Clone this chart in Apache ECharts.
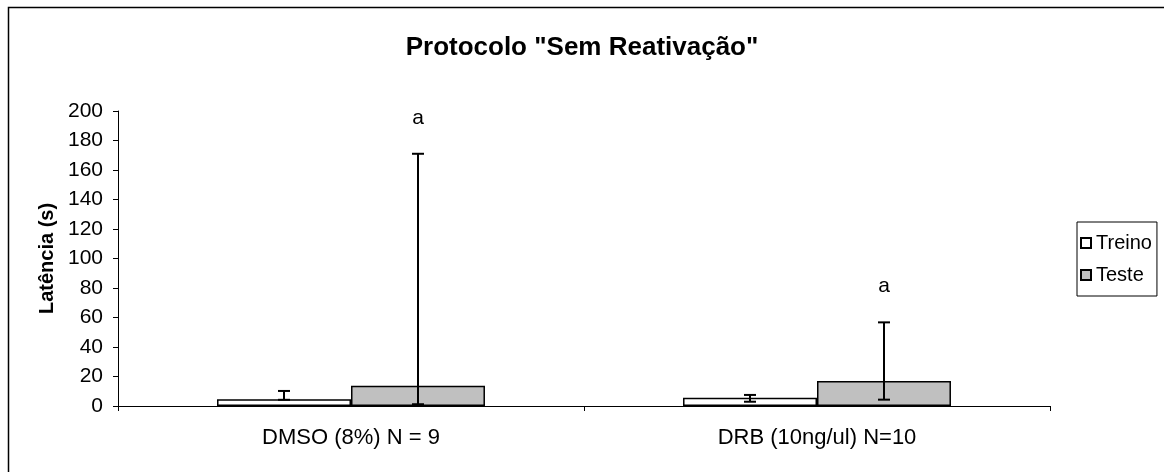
<!DOCTYPE html>
<html><head><meta charset="utf-8">
<script src="https://cdn.jsdelivr.net/npm/echarts@6/dist/echarts.min.js"></script>
<style>html,body{margin:0;padding:0;background:#fff}#c{width:1164px;height:472px}</style>
</head><body><div id="c"></div>
<script>
const categories = ['DMSO (8%) N = 9', 'DRB (10ng/ul) N=10'];
const seriesNames = ['Treino', 'Teste'];
const treino = [4.5, 5.6];
const teste = [13.8, 16.9];
const treinoErrLow = [4.2, 2.9];
const treinoErrHigh = [10.2, 7.5];
const testeErrLow = [1.2, 4.3];
const testeErrHigh = [171, 56.7];
const testeSig = ['a', 'a'];
const yTicks = [0, 20, 40, 60, 80, 100, 120, 140, 160, 180, 200];

const FONT = 'Liberation Sans, Arial, sans-serif';
const GAP = 0.425;

function errSeries(name, low, high, offsetSign, sig) {
  return {
    type: 'custom', name: name + ' err', z: 5, silent: true,
    data: categories.map((c, i) => [i, low[i], high[i]]),
    encode: { x: 0, y: [1, 2] },
    renderItem: function (params, api) {
      const i = api.value(0);
      const band = api.size([1, 0])[0];
      const barW = band * (1 - GAP) / 2;
      const lo = api.coord([i, api.value(1)]);
      const hi = api.coord([i, api.value(2)]);
      const x = lo[0] + offsetSign * barW / 2;
      const cw = 6;
      const st = { stroke: '#000', lineWidth: 2 };
      const children = [
        { type: 'line', shape: { x1: x, y1: lo[1], x2: x, y2: hi[1] }, style: st },
        { type: 'line', shape: { x1: x - cw, y1: hi[1], x2: x + cw, y2: hi[1] }, style: st },
        { type: 'line', shape: { x1: x - cw, y1: lo[1], x2: x + cw, y2: lo[1] }, style: st }
      ];
      if (sig && sig[i]) {
        children.push({ type: 'text', style: { text: sig[i], x: x, y: hi[1] - 36, align: 'center', verticalAlign: 'middle', font: '21px ' + FONT, fill: '#000' } });
      }
      return { type: 'group', children: children };
    }
  };
}

const chart = echarts.init(document.getElementById('c'), null, { renderer: 'canvas' });
chart.setOption({
  animation: false,
  backgroundColor: '#fff',
  graphic: [{ type: 'rect', shape: { x: 8.5, y: 7.5, width: 1300, height: 600 }, style: { fill: 'none', stroke: '#000', lineWidth: 1.5 } }],
  title: {
    text: 'Protocolo "Sem Reativação"', left: 'center', top: 30,
    textStyle: { fontFamily: FONT, fontSize: 26, fontWeight: 'bold', color: '#000' }
  },
  legend: {
    orient: 'vertical', left: 1077, top: 222,
    data: seriesNames,
    icon: 'rect', itemWidth: 10, itemHeight: 10, itemGap: 12,
    padding: [11, 5, 11, 3],
    borderColor: '#000', borderWidth: 1,
    textStyle: { fontFamily: FONT, fontSize: 20, color: '#000' }
  },
  grid: { left: 118, right: 114, top: 111, bottom: 66, containLabel: false },
  xAxis: {
    type: 'category', data: categories,
    axisLine: { lineStyle: { color: '#000', width: 1 } },
    axisTick: { show: true, length: 5, lineStyle: { color: '#000' } },
    axisLabel: { margin: 21, fontFamily: FONT, fontSize: 22, color: '#000' },
    splitLine: { show: false }
  },
  yAxis: {
    type: 'value', min: yTicks[0], max: yTicks[yTicks.length - 1], interval: yTicks[1] - yTicks[0],
    name: 'Latência (s)', nameLocation: 'middle', nameGap: 60, nameRotate: 90,
    nameTextStyle: { fontFamily: FONT, fontSize: 20, fontWeight: 'bold', color: '#000' },
    axisLine: { show: true, lineStyle: { color: '#000', width: 1 } },
    axisTick: { show: true, length: 5, lineStyle: { color: '#000' } },
    axisLabel: { margin: 15, fontFamily: FONT, fontSize: 21, color: '#000' },
    splitLine: { show: false }
  },
  series: [
    { name: 'Treino', type: 'bar', data: treino, barGap: '0%', barCategoryGap: (GAP * 100) + '%',
      itemStyle: { color: '#fff', borderColor: '#000', borderWidth: 1.5 } },
    { name: 'Teste', type: 'bar', data: teste, barGap: '0%', barCategoryGap: (GAP * 100) + '%',
      itemStyle: { color: '#c0c0c0', borderColor: '#000', borderWidth: 1.5 } },
    errSeries('Treino', treinoErrLow, treinoErrHigh, -1, null),
    errSeries('Teste', testeErrLow, testeErrHigh, 1, testeSig)
  ]
});
</script></body></html>
